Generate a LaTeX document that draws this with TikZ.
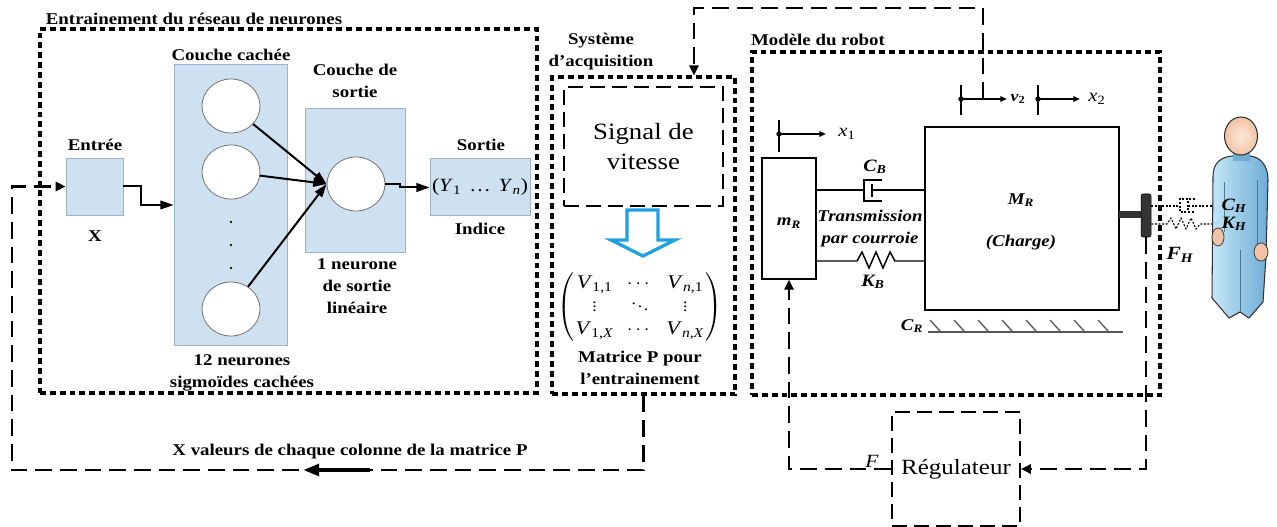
\documentclass[tikz,border=0pt]{standalone}
\usepackage{amsmath}
\usepackage{fontspec}
\setmainfont{Liberation Serif}[FakeStretch=1.15]
\usepackage{graphicx}
\usetikzlibrary{arrows.meta,fit,shapes.geometric}

\definecolor{nnfill}{RGB}{205,225,241}
\definecolor{nnedge}{RGB}{150,180,205}
\definecolor{flowblue}{RGB}{30,160,225}
\definecolor{handle}{RGB}{52,52,52}
\definecolor{skin}{RGB}{242,196,166}
\definecolor{skinlight}{RGB}{252,232,218}
\definecolor{cloth}{RGB}{196,230,247}
\definecolor{clothdark}{RGB}{110,172,214}

% one entry of the training matrix, on a fixed width
\newcommand\matel[1]{\makebox[30pt]{#1}}
% short vertical and diagonal dots for the matrix
\newcommand\shortvdots{\scalebox{0.8}{$\vdots$}}
\newcommand\shortddots{\scalebox{0.8}{$\ddots$}}

\begin{document}
\begin{tikzpicture}[x=0.75pt,y=-0.75pt,
  tip/.style={-{Triangle[length=7.5pt,width=7pt]}},
  frame/.style={draw,line width=2.3pt,dash pattern=on 4.4pt off 3pt,inner sep=0pt},
  link/.style={draw,line width=1.6pt,dash pattern=on 12.5pt off 6pt},
  dashbox/.style={draw,line width=1.4pt,dash pattern=on 11pt off 5.5pt,inner sep=0pt},
  layer/.style={draw=nnedge,fill=nnfill,line width=0.6pt,inner sep=0pt},
  neuron/.style={ellipse,draw=black!55,fill=white,line width=0.6pt,
    minimum width=43.5pt,minimum height=40.5pt,inner sep=0pt},
  nnarrow/.style={draw,line width=1.5pt,-{Triangle[length=10pt,width=6.5pt]}},
  lbl/.style={font=\fontsize{12.3}{16.5}\selectfont\bfseries,align=center,inner sep=0pt},
  mech/.style={font=\fontsize{12.3}{16.5}\selectfont\bfseries\itshape,align=center,inner sep=0pt},
  coordlbl/.style={font=\fontsize{13.5}{15}\selectfont\itshape,inner sep=0pt},
  body/.style={draw=black!80,line width=0.8pt},
  marker/.style={draw,line width=1.3pt,-{Triangle[length=5pt,width=4pt]}}
]
\useasboundingbox (0,0) rectangle (1277,527);

% ---------- group frames ----------
\node[frame,fit={(40,29)(537,393)}] (nnframe) {};
\node[frame,fit={(552,77)(735,394)}] (acq) {};
\node[frame,fit={(752,52)(1160,395)}] (robot) {};

\node[lbl] (nntitle) at (194,19) {Entrainement du réseau de neurones};
\node[lbl] (acqtitle) at (601,52) {Système\\d'acquisition};
\node[lbl] (robottitle) at (818,40) {Modèle du robot};

% ---------- neural network ----------
\node[layer,fit={(66,158)(123,215)}] (in) {};
\node[layer,fit={(174,64)(287,345)}] (hid) {};
\node[layer,fit={(305,108)(405,252)}] (outl) {};
\node[layer,fit={(430,158)(530,215)}] (sout) {};

\node[neuron] (h1) at (231,106) {};
\node[neuron] (h2) at (231,172) {};
\node[neuron] (h3) at (231,309) {};
\node[neuron] (o1) at (356,184) {};
\foreach \dy in {222,245,268} \fill[black!60!green!40!black] (231,\dy) circle (1.1pt);

\node[lbl] (lin) at (95,145) {Entrée};
\node[lbl] (lx) at (95,236) {X};
\node[lbl] (lhid) at (231,55) {Couche cachée};
\node[lbl] (lhid2) at (242,373) {12 neurones\\sigmoïdes cachées};
\node[lbl] (lout) at (355,81) {Couche de\\sortie};
\node[lbl] (lout2) at (357,286) {1 neurone\\de sortie\\linéaire};
\node[lbl] (lsort) at (481,145) {Sortie};
\node[lbl] (lind) at (480,229) {Indice};
\node[inner sep=0pt,font=\fontsize{14}{15}\selectfont] (yvec) at (480,187)
  {(\textit{Y}\textsubscript{1}\hspace{6pt}…\hspace{6pt}\textit{Y}\textsubscript{\textit{n}})};

\coordinate (s1) at (141,205);
\draw[nnarrow] (in.east) -| (s1) -- (s1 -| hid.west);
\draw[nnarrow] (h1) -- (o1.west);
\draw[nnarrow] (h2) -- (o1.west);
\draw[nnarrow] (h3) -- (o1.west);
\coordinate (s2) at (400,187.5);
\draw[nnarrow] (o1.east) -| (s2) -- (s2 -| sout.west);

% ---------- acquisition ----------
\node[dashbox,minimum width=119.25pt,minimum height=89.25pt,
  font=\fontsize{17.5}{22.5}\selectfont,align=center] (sig) at (643.5,146.5) {Signal de\\vitesse};
\draw[flowblue,line width=2.4pt,fill=white,line join=miter]
  (627,210) -- (658,210) -- (658,240) -- (675,240) -- (643,256) -- (611,240) -- (627,240) -- cycle;
\node[inner sep=0pt,font=\fontsize{14.5}{17.25}\selectfont] (pmat) at (640,307)
  {\setlength\tabcolsep{2pt}$\left(\begin{tabular}{@{}ccc@{}}
    \matel{\textit{V}\textsubscript{1,1}} & \matel{$\cdots$} & \matel{\textit{V}\textsubscript{\textit{n},1}}\\
    \matel{\shortvdots} & \matel{\shortddots} & \matel{\shortvdots}\\
    \matel{\textit{V}\textsubscript{1,\textit{X}}} & \matel{$\cdots$} & \matel{\textit{V}\textsubscript{\textit{n,X}}}
  \end{tabular}\right)$};
\node[lbl] (lmat) at (640,368) {Matrice P pour\\l'entrainement};

% ---------- robot model ----------
\node[draw,line width=1.1pt,inner sep=0pt,fit={(762,158)(816,279)}] (mR) {};
\node[draw,line width=1.1pt,inner sep=0pt,fit={(925,127)(1119,310)}] (MR) {};
\node[mech] (lmR) at (789,223) {m\textsubscript{R}};
\node[mech] (lMR) at (1021,200) {M\textsubscript{R}};
\node[mech] (lcharge) at (1021,243) {(Charge)};

% damper C_B
\coordinate (cb) at (864,190);
\draw[line width=1.1pt] (cb -| mR.east) -- (cb);
\draw[line width=1.1pt] (882,180) -- (864,180) -- (864,201) -- (882,201);
\draw[line width=1.1pt] (872,184) -- (872,197);
\draw[line width=1.1pt] (872,190) -- (cb -| MR.west);
\node[mech,font=\fontsize{13}{15}\selectfont\bfseries\itshape] (lcb) at (875,167) {C\textsubscript{B}};
\node[mech] (ltrans) at (870,229) {Transmission\\par courroie};

% spring K_B
\coordinate (kb) at (857,261);
\draw[line width=1.1pt,line join=miter] (kb -| mR.east) -- (kb) -- (862,252) -- (869,268) -- (876,252)
  -- (883,268) -- (890,252) -- (895,261) -- (kb -| MR.west);
\node[mech,font=\fontsize{13}{15}\selectfont\bfseries\itshape] (lkb) at (873,282) {K\textsubscript{B}};

% displacement markers
\draw[line width=1.5pt] (779,120) -- (779,152);
\fill (779,134) circle (2pt);
\draw[marker] (779,134) -- (826,134);
\node[coordlbl] (lx1) at (847,134) {x\textsubscript{\upshape 1}};

\draw[line width=1.5pt] (961,85) -- (961,115);
\fill (961,99) circle (2pt);
\draw[marker] (961,99) -- (1007,99);
\node[coordlbl,font=\fontsize{11.5}{13}\selectfont\bfseries\itshape] (lv2) at (1018,99) {v\textsubscript{\upshape 2}};
\coordinate (v2o) at (983,99);

\draw[line width=1.5pt] (1038,85) -- (1038,115);
\fill (1038,99) circle (2pt);
\draw[marker] (1038,99) -- (1080,99);
\node[coordlbl] (lx2) at (1097,99) {x\textsubscript{\upshape 2}};

% ground with friction C_R
\draw[black!65,line width=1.3pt] (928,332) -- (1123,332);
\foreach \hx in {930,954,978,1002,1026,1050,1074,1098}
  \draw[black!65,line width=1pt] (\hx,320) -- (\hx+10,331);
\node[mech] (lcr) at (912,326) {C\textsubscript{R}};

% handle
\fill[handle] (1119,211.5) rectangle (1142,218.5);
\node[fill=handle,draw=black,rounded corners=1.5pt,inner sep=0pt,fit={(1141,194)(1151,237)}] (bar) {};

% human coupling C_H, K_H
\begin{scope}[line width=0.8pt,dash pattern=on 1.5pt off 1.2pt]
\draw (bar.east |- 0,206) -- (1180,206);
\draw (1195,199) -- (1180,199) -- (1180,212) -- (1195,212);
\draw (1188,201) -- (1188,210);
\draw (1188,206) -- (1222,206);
\draw (bar.east |- 0,224) -- (1167,224) -- (1171,218) -- (1176,229)
  -- (1181,218) -- (1186,229) -- (1191,218) -- (1196,229) -- (1200,224) -- (1222,224);
\end{scope}

% human figure
\shade[left color=cloth,right color=clothdark,body]
  (1232,156) .. controls (1221,157) and (1213,163) .. (1213,176)
  -- (1212,298) -- (1229,318) -- (1240,312) -- (1249,318) -- (1263,302)
  -- (1266,256) -- (1268,180) .. controls (1268,165) and (1260,157) .. (1250,156) -- cycle;
\draw[clothdark!70!black,line width=0.5pt] (1224,182) -- (1224,232);
\draw[clothdark!70!black,line width=0.5pt] (1257,180) -- (1257,244);
\draw[clothdark!70!black,line width=0.5pt] (1240,250) -- (1240,312);
\fill[clothdark] (1233,153) rectangle (1250,161);
\filldraw[fill=skin,draw=black!75,line width=0.6pt] (1218,237) ellipse (6 and 9);
\filldraw[fill=skin,draw=black!75,line width=0.6pt] (1261,252) ellipse (7 and 9);
\shade[inner color=skinlight,outer color=skin,body] (1241,136) ellipse (16.5 and 19);

\node[mech,font=\fontsize{13}{15}\selectfont\bfseries\itshape] (lch) at (1234,206) {C\textsubscript{H}};
\node[mech,font=\fontsize{13}{15}\selectfont\bfseries\itshape] (lkh) at (1234,224) {K\textsubscript{H}};
\node[mech,font=\fontsize{14}{15}\selectfont\bfseries\itshape] (lfh) at (1180,255) {F\textsubscript{H}};

% ---------- controller ----------
\node[dashbox,minimum width=96pt,minimum height=85.5pt,
  font=\fontsize{16.3}{18}\selectfont] (reg) at (956,469) {Régulateur};
\node[font=\fontsize{14}{15}\selectfont\itshape,inner sep=0pt] (lf) at (872,461) {F};

% ---------- signal paths ----------
\coordinate (tp) at (694,8);
\draw[link,tip] (v2o) |- (tp) -- (tp |- acq.north);
\draw[link,tip] (bar.south) |- (reg.east);
\draw[link,tip] (reg.west) -| (mR.south);
\coordinate (fb) at (12,470);
\draw[link,tip] (acq.south) |- (fb) |- (in.west);
\coordinate (fbh) at (370,470);
\coordinate (fbt) at (303,470);
\draw[line width=3.2pt,-{Triangle[length=12pt,width=8.5pt]}] (fbh) -- (fbt);
\node[lbl] (lfb) at (350,452) {X valeurs de chaque colonne de la matrice P};

\end{tikzpicture}
\end{document}
